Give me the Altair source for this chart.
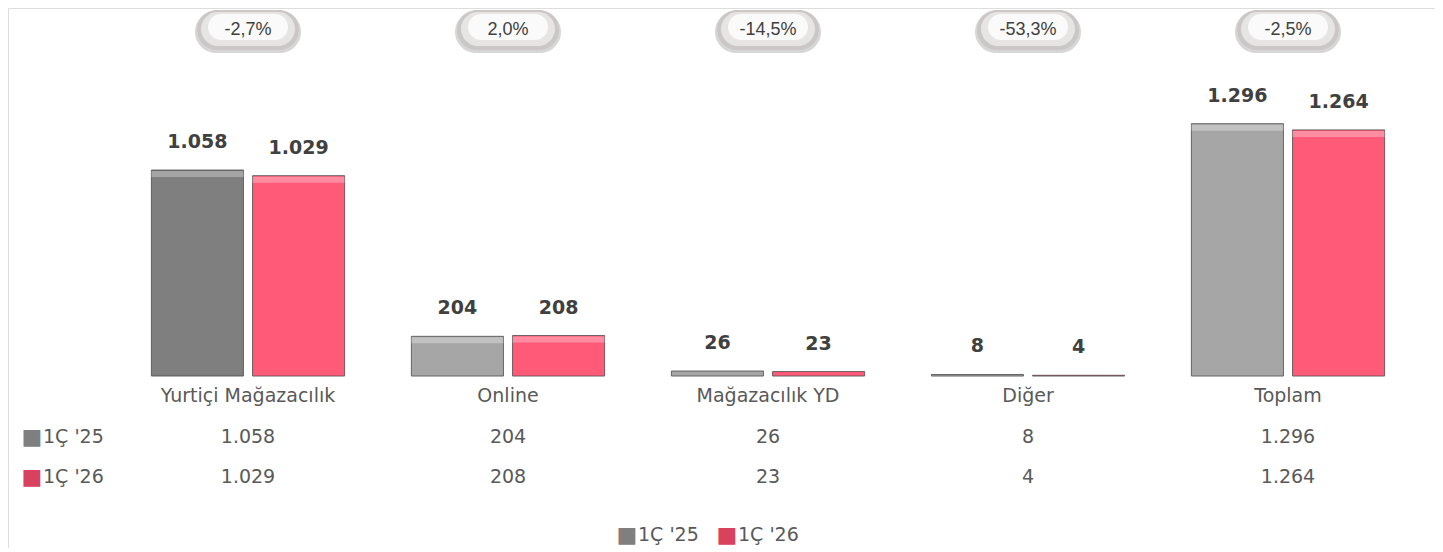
import altair as alt
import pandas as pd

categories = ["Yurtiçi Mağazacılık", "Online", "Mağazacılık YD", "Diğer", "Toplam"]
series = ["1Ç '25", "1Ç '26"]
values_25 = [1058, 204, 26, 8, 1296]
values_26 = [1029, 208, 23, 4, 1264]
labels_25 = ["1.058", "204", "26", "8", "1.296"]
labels_26 = ["1.029", "208", "23", "4", "1.264"]
changes = ["-2,7%", "2,0%", "-14,5%", "-53,3%", "-2,5%"]

rows = []
for i, c in enumerate(categories):
    rows.append({"cat": c, "series": "a", "shade": "a0" if i == 0 else "a",
                 "value": values_25[i], "zero": 0, "label": labels_25[i]})
    rows.append({"cat": c, "series": "b", "shade": "b",
                 "value": values_26[i], "zero": 0, "label": labels_26[i]})
bars = pd.DataFrame(rows)
cats = pd.DataFrame({"cat": categories, "change": changes, "l25": labels_25,
                     "l26": labels_26})

W, H = 1427, 540
TXT = "#595959"
FONT = "DejaVu Sans"

x = alt.X("cat:N", scale=alt.Scale(domain=categories, range=[110, 1410],
                                   paddingInner=0, paddingOuter=0), axis=None)
xo = alt.XOffset("series:N", scale=alt.Scale(domain=["a", "b"], paddingInner=0.09,
                                             paddingOuter=0.33))
y = alt.Y("value:Q", scale=alt.Scale(domain=[-883, 1890], nice=False, zero=False), axis=None)
color = alt.Color("shade:N", scale=alt.Scale(domain=["a0", "a", "b"],
                                             range=["#7f7f7f", "#a6a6a6", "#ff5b78"]),
                  legend=None)

bar_main = alt.Chart(bars).mark_bar(stroke="#4a4a4a", strokeWidth=0.8).encode(
    x=x, xOffset=xo, y=y, y2="zero:Q", color=color)

bar_top = alt.Chart(bars).transform_filter(alt.datum.value > 100).mark_bar(
    color="white", opacity=0.3, y2Offset=7, yOffset=1).encode(
    x=x, xOffset=xo, y=y, y2="value:Q")

labels = alt.Chart(bars).mark_text(
    font=FONT, fontSize=19, fontWeight="bold", color="#404040", dy=-28, baseline="middle"
).encode(x=x, xOffset=xo, y=y, text="label:N")

c = alt.Chart(cats)
baseline = c.mark_rect(color="#d9d9d9", y2Offset=1.5).encode(x=x, y="zero:Q", y2="zero:Q") \
    if False else None

cat_labels = c.mark_text(font=FONT, fontSize=19, color=TXT, baseline="middle"
                         ).encode(x=x, y=alt.value(388), text="cat:N")
row25 = c.mark_text(font=FONT, fontSize=19, color=TXT, baseline="middle").encode(
    x=x, y=alt.value(429), text="l25:N")
row26 = c.mark_text(font=FONT, fontSize=19, color=TXT, baseline="middle").encode(
    x=x, y=alt.value(469), text="l26:N")

first = c.transform_filter(alt.datum.cat == categories[0])
middle = c.transform_filter(alt.datum.cat == categories[2])


def key(anchor, col, name, sx, tx, yy):
    return [
        anchor.mark_text(text="■", font=FONT, fontSize=22, color=col, baseline="middle",
                         xOffset=sx).encode(x=x, y=alt.value(yy)),
        anchor.mark_text(text=name, font=FONT, fontSize=19, color=TXT, align="left",
                         baseline="middle", xOffset=tx).encode(x=x, y=alt.value(yy)),
    ]


keys = (key(first, "#7f7f7f", series[0], -216, -205, 429)
        + key(first, "#d9425e", series[1], -216, -205, 469)
        + key(middle, "#7f7f7f", series[0], -141, -130, 527)
        + key(middle, "#d9425e", series[1], -41, -30, 527))

bubble_layers = [
    c.mark_bar(width=106, cornerRadius=21, color="#9a9a9a", opacity=0.4).encode(
        x=x, y=alt.value(3), y2=alt.value(45)),
    c.mark_bar(width=102, cornerRadius=20, color="#cbc7c7").encode(
        x=x, y=alt.value(2), y2=alt.value(42)),
    c.mark_bar(width=94, cornerRadius=17, color="#e7e4e4").encode(
        x=x, y=alt.value(4), y2=alt.value(38)),
    c.mark_bar(width=80, cornerRadius=13, color="#fafafa").encode(
        x=x, y=alt.value(6), y2=alt.value(32)),
    c.mark_text(font="Liberation Sans Narrow, Liberation Sans", fontSize=18, color="#404040",
                baseline="middle").encode(x=x, y=alt.value(22), text="change:N"),
]

axis_strip = c.mark_text(text="―" * 11, font=FONT, fontSize=20, color="#d9d9d9",
                         baseline="middle", dy=1).encode(x=x, y="zero:Q") if False else None

chart = alt.layer(bar_main, bar_top, labels, cat_labels, row25, row26, *keys,
                  *bubble_layers).properties(width=W, height=H, padding=0)

chart.save("out.html", embed_options={"renderer": "svg", "actions": False})
